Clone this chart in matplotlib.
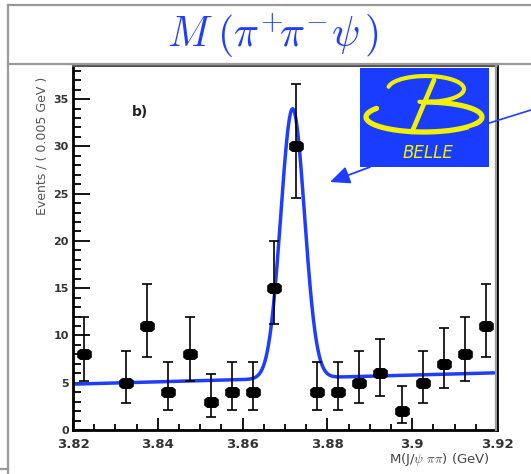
import numpy as np
import matplotlib
matplotlib.use("Agg")
import matplotlib.pyplot as plt
from matplotlib.path import Path
from matplotlib.lines import Line2D

plt.rcParams['mathtext.fontset'] = 'cm'

# ---------------------------------------------------------------
# dados: M(J/psi pi pi), bins de 0.005 GeV
# ---------------------------------------------------------------
massa = [3.8225, 3.8325, 3.8375, 3.8425, 3.8475, 3.8525, 3.8575, 3.8625,
         3.8675, 3.8725, 3.8775, 3.8825, 3.8875, 3.8925, 3.8975, 3.9025,
         3.9075, 3.9125, 3.9175]
eventos = [8, 5, 11, 4, 8, 3, 4, 4, 15, 30, 4, 4, 5, 6, 2, 5, 7, 8, 11]
erro_baixo = [2.77, 2.16, 3.28, 1.91, 2.77, 1.63, 1.91, 1.91, 3.83, 5.44,
              1.91, 1.91, 2.16, 2.38, 1.29, 2.16, 2.58, 2.77, 3.28]
erro_cima = [3.94, 3.38, 4.43, 3.16, 3.94, 2.92, 3.16, 3.16, 4.96, 6.55,
             3.16, 3.16, 3.38, 3.58, 2.64, 3.38, 3.77, 3.94, 4.43]

# parametros do ajuste (gaussiana + fundo linear)
fundo_a = 4.85      # fundo em 3.82 GeV
fundo_b = 12.0      # inclinacao (eventos / GeV)
pico_amp = 28.5
pico_m = 3.8718
pico_sigma = 0.0028

x_ticks = [3.82, 3.84, 3.86, 3.88, 3.90, 3.92]
x_ticklabels = ['3.82', '3.84', '3.86', '3.88', '3.9', '3.92']

W, H = 531, 474
AZUL = '#1f3dff'
AZUL_LOGO = '#1a3cff'
AMARELO = '#f2f200'
CINZA = '#9a9a9a'


def fx(x):
    return x / W


def fy(y):
    return 1 - y / H


fig = plt.figure(figsize=(W / 100, H / 100), dpi=100)

# moldura cinza do slide
moldura = [((8, 5), (531, 5)), ((8, 5), (8, 474)), ((8, 64), (531, 64)),
           ((0, 469), (8, 469)), ((496, 64), (496, 430))]
for (x0, y0), (x1, y1) in moldura:
    fig.add_artist(Line2D([fx(x0), fx(x1)], [fy(y0), fy(y1)],
                          color=CINZA, lw=1.6, transform=fig.transFigure))

# titulo
fig.text(fx(273), fy(36), r'$M\;(\pi^{+}\!\pi^{-}\psi\,)$', color=AZUL,
         fontsize=30, ha='center', va='center')

# eixo principal
ax = fig.add_axes([fx(73), fy(430), fx(497) - fx(73), fy(66) - fy(430)])

# curva do ajuste
xx = np.linspace(3.82, 3.92, 800)
yy = fundo_a + fundo_b * (xx - 3.82) + \
    pico_amp * np.exp(-0.5 * ((xx - pico_m) / pico_sigma) ** 2)
ax.plot(xx, yy, color=AZUL, lw=2.5, zorder=2)

# marcador octogonal achatado
verts = [(-1, -0.42), (-0.62, -0.72), (0.62, -0.72), (1, -0.42), (1, 0.42),
         (0.62, 0.72), (-0.62, 0.72), (-1, 0.42), (-1, -0.42)]
marcador = Path(verts, closed=True)

ax.errorbar(massa, eventos, yerr=[erro_baixo, erro_cima], fmt='none',
            ecolor='black', elinewidth=1.2, capsize=3.6, capthick=1.2, zorder=3)
ax.plot(massa, eventos, ls='none', marker=marcador, markersize=9.5,
        color='black', zorder=4)

ax.set_xlim(3.82, 3.92)
ax.set_ylim(0, 38.5)
ax.set_xticks(x_ticks)
ax.set_xticklabels(x_ticklabels)
ax.set_xticks(np.arange(3.82, 3.9201, 0.005), minor=True)
ax.set_yticks(np.arange(0, 36, 5))
ax.set_yticks(np.arange(0, 39, 1), minor=True)

ax.tick_params(axis='y', which='major', direction='in', length=12, width=1.3,
               labelsize=8, pad=3, labelcolor='#333333')
ax.tick_params(axis='y', which='minor', direction='in', length=6, width=1.3)
ax.tick_params(axis='x', which='major', direction='in', length=9, width=1.3,
               labelsize=9.5, pad=6, labelcolor='#333333')
ax.tick_params(axis='x', which='minor', direction='in', length=4.5, width=1.3)
for lab in ax.get_xticklabels() + ax.get_yticklabels():
    lab.set_fontweight('bold')

for s in ['left', 'bottom', 'right']:
    ax.spines[s].set_linewidth(2.0)
ax.spines['top'].set_linewidth(1.5)
ax.spines['top'].set_color('#555555')

fig.text(fx(490), fy(459), r'M(J/$\psi$ $\pi\pi$) (GeV)', fontsize=9.5,
         ha='right', va='center', color='#444444')
fig.text(fx(42), fy(77), 'Events / ( 0.005 GeV )', fontsize=9, rotation=90,
         ha='center', va='top', color='#555555')
fig.text(fx(132), fy(112), 'b)', fontsize=10, fontweight='bold',
         ha='left', va='center', color='#222222')

# linha azul que vem da direita (passa por tras do logo)
fig.add_artist(Line2D([fx(531), fx(470)], [fy(110), fy(129)], color=AZUL,
                      lw=1.2, transform=fig.transFigure))

# logo BELLE
lg = fig.add_axes([fx(360), fy(167), fx(489) - fx(360), fy(68) - fy(167)])
lg.set_facecolor(AZUL_LOGO)
lg.set_xlim(0, 129)
lg.set_ylim(99, 0)
lg.set_xticks([])
lg.set_yticks([])
for s in lg.spines.values():
    s.set_visible(False)

t = np.radians(np.linspace(170, -100, 200))
lg.plot(66 + 38 * np.cos(t), 21 - 13 * np.sin(t), color=AMARELO, lw=3.0,
        solid_capstyle='round')
t = np.radians(np.linspace(90, -215, 300))
lg.plot(64 + 58 * np.cos(t), 49 - 15 * np.sin(t), color=AMARELO, lw=3.8,
        solid_capstyle='round')
lg.plot([74, 52], [12, 64], color=AMARELO, lw=3.4, solid_capstyle='round')
lg.text(68, 85, 'BELLE', color=AMARELO, fontsize=12, style='italic',
        ha='center', va='center')

# seta azul apontando para o pico
ax.annotate('', xy=(330, H - 182), xytext=(370, H - 167),
            xycoords='figure pixels', textcoords='figure pixels',
            arrowprops=dict(arrowstyle='-|>,head_length=1.0,head_width=0.45',
                            color=AZUL, lw=1.3, mutation_scale=12,
                            shrinkA=0, shrinkB=0))

plt.savefig('out.png', dpi=100)
